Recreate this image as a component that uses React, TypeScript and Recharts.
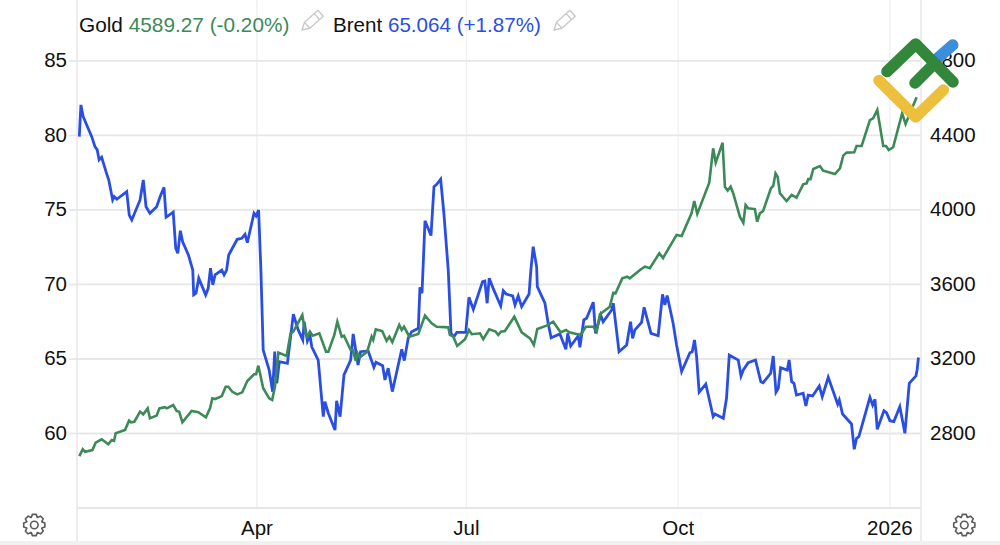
import { LineChart, Line, CartesianGrid, XAxis, YAxis } from "recharts";

// days counted from 1 Jan 2025
const brentDays = [
  12.8, 13.5, 14.5, 15.7, 18.2, 19.6, 20.6, 21.4, 22.5, 24.4, 25.6, 27.3, 28, 29.1, 33.4, 34.5, 35.6, 39.2, 40.6, 41.8,
  43.5, 46.4, 47.9, 49.6, 50.5, 53.6, 54.7, 55.6, 56.7, 57.7, 60.2, 62.1, 62.5, 63.5, 64.7, 67.7, 68.8, 69.8, 70.8, 71.8,
  74.7, 75.7, 76.8, 77.7, 81.4, 83.4, 84.8, 85.8, 88.7, 89.6, 90.7, 91.7, 92.7, 95.3, 96.8, 97.7, 98.6, 99.7, 103.2, 105.8,
  107.9, 109.9, 110.5, 111.9, 113, 113.8, 116.6, 118.8, 119.5, 121, 123.9, 124.6, 126.1, 127.8, 130.7, 131.8, 133.9, 135, 138.3, 140.8,
  141.7, 144.6, 145.6, 147, 148.8, 152.9, 154, 155.7, 157.2, 160.1, 160.8, 161.7, 163, 165.6, 166.9, 168.1, 169.8, 171.2, 173.1, 174.3,
  175.6, 176.8, 180.7, 182.1, 184, 188, 189, 190, 190.9, 192.6, 195.9, 197, 198.2, 201.1, 202.1, 203.5, 205, 208.2, 209, 210,
  211.5, 211.8, 215.1, 216.5, 217.8, 221.6, 224.2, 225, 226.3, 229.6, 230.3, 232, 233.2, 236.1, 237.1, 239.3, 240.4, 244.1, 244.8, 246,
  247.3, 250.6, 252.3, 253.2, 254.2, 257.1, 258.2, 261.2, 264.3, 266.2, 267.2, 268.2, 270.8, 272.3, 274.5, 278.1, 279.1, 280.1, 281, 282.1,
  285, 288.2, 289, 292.6, 294, 295.2, 299.1, 300.3, 301.3, 303.4, 306.6, 308.9, 309.9, 313.2, 314.3, 315.5, 316.5, 317.5, 320.4, 321.2,
  322.3, 323.3, 324.4, 327.3, 328.5, 329.5, 331.4, 334.3, 335.6, 338.2, 342.3, 343, 344.4, 348.3, 349.5, 350.5, 351.5, 356.3, 357.5, 358.5,
  359.5, 362.4, 363.5, 365, 366.7, 369.3, 371.5, 373.4, 376.3, 376.8, 377.4,
];
const brentValues = [
  79.92, 82.05, 81.26, 80.82, 79.92, 79.25, 79.03, 78.36, 78.54, 77.57, 77.01, 75.67, 75.89, 75.72, 76.23, 74.66, 74.33, 75.67, 77.01, 75.22,
  74.78, 75.22, 75.89, 76.52, 74.51, 74.85, 72.43, 72.09, 73.61, 72.87, 71.98, 70.97, 69.3, 69.41, 70.42, 69.3, 69.74, 71.09, 69.97, 70.64,
  70.97, 70.64, 70.97, 71.98, 73.03, 73.1, 73.37, 72.8, 74.78, 74.6, 75, 70.97, 65.6, 64.26, 62.8, 65.49, 63.37, 64.82, 64.71, 68,
  66.95, 66.28, 67.5, 66.21, 66.61, 65.82, 64.93, 61.13, 62.13, 61.36, 60.23, 62.2, 61.13, 63.93, 64.93, 66.68, 64.6, 65.49, 65.54, 64.44,
  64.78, 64.55, 63.59, 64.38, 62.81, 65.65, 64.89, 66.39, 66.83, 67.06, 69.81, 69.41, 74.28, 73.28, 76.56, 76.72, 77.06, 74.78, 70.97, 66.72,
  66.5, 66.79, 66.79, 69.14, 68.33, 70.19, 70.23, 68.74, 70.42, 69.74, 68.56, 69.58, 69.36, 69.23, 68.62, 69.23, 68.51, 69.36, 70.97, 72.54,
  71.19, 69.85, 68.74, 67.4, 66.43, 66.68, 65.65, 66.72, 65.87, 66.56, 65.78, 67.62, 67.73, 68.81, 66.72, 67.95, 67.5, 68.29, 68.74, 67.17,
  65.49, 65.94, 67.5, 66.39, 66.95, 67.46, 68.47, 66.72, 66.56, 69.34, 68.62, 69.25, 67.4, 65.94, 64.15, 65.42, 65.49, 66.28, 65.15, 62.77,
  63.32, 61.13, 61.31, 61.02, 62.36, 65.27, 64.93, 63.86, 64.26, 64.75, 64.93, 63.48, 63.41, 64.04, 65.2, 62.77, 63.03, 64.42, 64.26, 64.93,
  63.48, 63.37, 62.58, 62.7, 61.85, 62.58, 62.52, 63.19, 62.47, 63.77, 61.97, 62.25, 61.31, 60.64, 58.94, 59.68, 59.79, 62.43, 61.91, 62.29,
  60.28, 61.53, 61.4, 60.86, 60.8, 61.8, 60.01, 63.37, 63.86, 64.26, 65.1,
];

const goldDays = [
  12.8, 14.3, 15.3, 18.5, 19.9, 22.5, 25.4, 26.9, 27.9, 28.6, 32.7, 34.4, 35.3, 36.7, 39.2, 40.6, 42.5, 43.5, 46.4, 47.6,
  50, 50.8, 53.6, 55.1, 56.2, 57.6, 61.6, 64.5, 67.8, 69.6, 70.6, 71.8, 74.7, 76.4, 77.5, 79.3, 81.4, 83.6, 85.8, 88.7,
  89.6, 90.6, 92.7, 95.3, 96.6, 97.8, 99.3, 102.9, 104.6, 105.8, 109.7, 110.9, 111.9, 113, 114.2, 117.1, 120, 121, 123.6, 124.9,
  126.8, 127.8, 130.7, 131.7, 132.9, 133.7, 134.7, 137.9, 139.8, 140.5, 141.6, 144.4, 146.3, 147.5, 148.8, 151.8, 152.9, 153.9, 156.2, 160.1,
  163, 165.9, 168.1, 173.1, 173.8, 175.3, 177, 180.4, 182.1, 183.3, 186.9, 188.3, 190.9, 193.7, 194.8, 196, 197.7, 201.8, 205, 208.6,
  210.3, 211.8, 215.8, 218.7, 221.9, 224.2, 225.7, 230.6, 232.9, 236.1, 237.6, 239, 243.3, 244.8, 245.8, 248.7, 250.9, 252, 256.4, 258.5,
  260.7, 264.8, 266.4, 272.3, 274.5, 278.8, 280, 281.3, 286.5, 288.2, 289.3, 292.3, 293.3, 294.5, 295.8, 296.9, 299.8, 301.3, 302.3, 303.4,
  306.3, 307.3, 308.5, 309.9, 313.3, 314.3, 315.3, 316.2, 317.2, 320.1, 322.3, 324.4, 327.3, 328.8, 329.5, 330.5, 331.7, 334.6, 336, 341.1,
  343.3, 344.7, 346.2, 349.5, 350.5, 352.7, 356.3, 357.7, 359.5, 362.1, 363.3, 364.5, 366.4, 370.3, 371.8, 373.7, 376.6,
];
const goldValues = [
  2679, 2715, 2702, 2711, 2751, 2769, 2742, 2765, 2761, 2801, 2819, 2869, 2860, 2863, 2917, 2903, 2935, 2882, 2896, 2935,
  2941, 2935, 2953, 2921, 2917, 2860, 2921, 2914, 2887, 2935, 2989, 2985, 3001, 3051, 3051, 3024, 3010, 3021, 3082, 3118,
  3118, 3164, 3043, 2989, 2980, 3051, 3234, 3216, 3338, 3347, 3436, 3347, 3320, 3347, 3325, 3338, 3239, 3239, 3329, 3400,
  3320, 3325, 3248, 3248, 3189, 3231, 3209, 3239, 3320, 3302, 3359, 3350, 3298, 3320, 3290, 3383, 3356, 3373, 3320, 3334,
  3433, 3392, 3373, 3370, 3329, 3320, 3270, 3306, 3356, 3333, 3338, 3306, 3359, 3347, 3329, 3347, 3350, 3427, 3343, 3311,
  3275, 3361, 3379, 3400, 3343, 3356, 3343, 3329, 3373, 3373, 3347, 3440, 3481, 3556, 3553, 3633, 3642, 3633, 3678, 3696,
  3687, 3768, 3742, 3866, 3860, 3982, 4048, 3979, 4147, 4331, 4254, 4361, 4125, 4104, 4125, 4090, 3964, 3932, 4027, 4009,
  4005, 3937, 3982, 3995, 4117, 4129, 4197, 4179, 4090, 4048, 4081, 4066, 4138, 4143, 4166, 4166, 4220, 4236, 4211, 4193,
  4224, 4292, 4308, 4310, 4344, 4344, 4483, 4492, 4537, 4344, 4344, 4322, 4337, 4519, 4462, 4519, 4605,
];

const xTickDays = [90, 181, 273, 365];
const xTickLabels = ["Apr", "Jul", "Oct", "2026"];
const brentTicks = [60, 65, 70, 75, 80, 85];
const goldTicks = [2800, 3200, 3600, 4000, 4400, 4800];

const brentRows = brentDays.map((day, i) => ({ day, brent: brentValues[i] }));
const goldRows = goldDays.map((day, i) => ({ day, gold: goldValues[i] }));

const FONT = '"Liberation Sans", Arial, sans-serif';
const GRID = "#e7e7ea";
const GRID_SOFT = "#f1f1f4";
const BLUE = "#2a4ee4";
const GREEN = "#3c8a58";
const INK = "#111111";

function gearPath(cx: number, cy: number) {
  const pts: string[] = [];
  const teeth = 8;
  for (let i = 0; i < teeth; i++) {
    const a = (i / teeth) * Math.PI * 2;
    const w = Math.PI / teeth;
    const p = (r: number, t: number) => `${(cx + r * Math.cos(t)).toFixed(1)} ${(cy + r * Math.sin(t)).toFixed(1)}`;
    pts.push(p(8.2, a - w * 0.95), p(10.8, a - w * 0.45), p(10.8, a + w * 0.45), p(8.2, a + w * 0.95));
  }
  return "M" + pts.join("L") + "Z";
}

function Gear({ x, y }: { x: number; y: number }) {
  return (
    <g fill="none" stroke="#5c5c5c" strokeWidth={1.6} strokeLinejoin="round">
      <path d={gearPath(x, y)} />
      <circle cx={x} cy={y} r={3.8} />
    </g>
  );
}

function Pencil({ x, y }: { x: number; y: number }) {
  return (
    <g transform={`translate(${x} ${y}) rotate(-42)`} fill="none" stroke="#c9c9c9" strokeWidth={1.4} strokeLinejoin="round">
      <path d="M0 0 L7 -4 L25 -4 L25 4 L7 4 Z" />
      <path d="M7 -4 L7 4 M20 -4 L20 4" />
    </g>
  );
}

function Overlay() {
  return (
    <svg width={1000} height={545} style={{ position: "absolute", left: 0, top: 0 }}>
      <rect x={0} y={541} width={1000} height={4} fill="#f1f1f2" />
      <line x1={77} y1={0} x2={77} y2={541} stroke={GRID} strokeWidth={1.5} />
      <line x1={921} y1={0} x2={921} y2={541} stroke={GRID} strokeWidth={1.5} />
      <text x={79} y={32} fontFamily={FONT} fontSize={20.8} fill={INK}>
        Gold <tspan fill={GREEN}>4589.27 (-0.20%)</tspan>
      </text>
      <Pencil x={302} y={30} />
      <text x={333} y={32} fontFamily={FONT} fontSize={20.6} fill={INK}>
        Brent <tspan fill={BLUE}>65.064 (+1.87%)</tspan>
      </text>
      <Pencil x={554} y={30} />
      <Gear x={34.3} y={525} />
      <Gear x={964.3} y={525} />
      <g fill="none" strokeWidth={11.5} strokeLinecap="round" strokeLinejoin="round">
        <path d="M936.7 59 L952.7 45" stroke="#3a8edb" />
        <path d="M879 80.5 L915.7 117 L943.3 90" stroke="#ecbf3d" />
        <path d="M887 71.5 L915.7 44 L953 82 M915 83 L934 64" stroke="#32873a" />
      </g>
    </svg>
  );
}

export default function App() {
  return (
    <div style={{ position: "absolute", left: 0, top: 0, width: 1000, height: 545, background: "#fff" }}>
      <LineChart width={1000} height={545} margin={{ top: 0, right: 0, bottom: 0, left: 0 }}>
        <CartesianGrid
          xAxisId="time"
          yAxisId="brent"
          stroke={GRID_SOFT}
          strokeWidth={1.5}
          horizontal={false}
          syncWithTicks
          verticalValues={xTickDays}
        />
        <CartesianGrid
          xAxisId="time"
          yAxisId="brent"
          stroke={GRID}
          strokeWidth={1.8}
          vertical={false}
          syncWithTicks
          horizontalValues={brentTicks}
        />
        <XAxis
          xAxisId="time"
          type="number"
          dataKey="day"
          domain={[11.8, 378.5]}
          ticks={xTickDays}
          tickFormatter={(d: number) => xTickLabels[xTickDays.indexOf(d)]}
          height={37}
          stroke={GRID}
          strokeWidth={1.8}
          tickLine={false}
          tickMargin={6}
          tick={{ fontFamily: FONT, fontSize: 20.5, fill: INK }}
          interval={0}
        />
        <YAxis
          yAxisId="brent"
          orientation="left"
          domain={[55, 89.09]}
          ticks={brentTicks}
          width={77}
          axisLine={false}
          tickLine={{ stroke: GRID, strokeWidth: 1.8 }}
          tickSize={8}
          tickMargin={2}
          tick={{ fontFamily: FONT, fontSize: 20.5, fill: INK, dy: -1 }}
          interval={0}
        />
        <YAxis
          yAxisId="gold"
          orientation="right"
          domain={[2400, 5127.5]}
          ticks={goldTicks}
          width={79}
          axisLine={false}
          tickLine={false}
          tickSize={0}
          tickMargin={9}
          tick={{ fontFamily: FONT, fontSize: 20.5, fill: INK, dy: -1 }}
          interval={0}
        />
        <Line
          xAxisId="time"
          yAxisId="brent"
          data={brentRows}
          dataKey="brent"
          type="linear"
          stroke={BLUE}
          strokeWidth={2.8}
          dot={false}
          isAnimationActive={false}
        />
        <Line
          xAxisId="time"
          yAxisId="gold"
          data={goldRows}
          dataKey="gold"
          type="linear"
          stroke={GREEN}
          strokeWidth={2.6}
          dot={false}
          isAnimationActive={false}
        />
      </LineChart>
      <Overlay />
    </div>
  );
}
